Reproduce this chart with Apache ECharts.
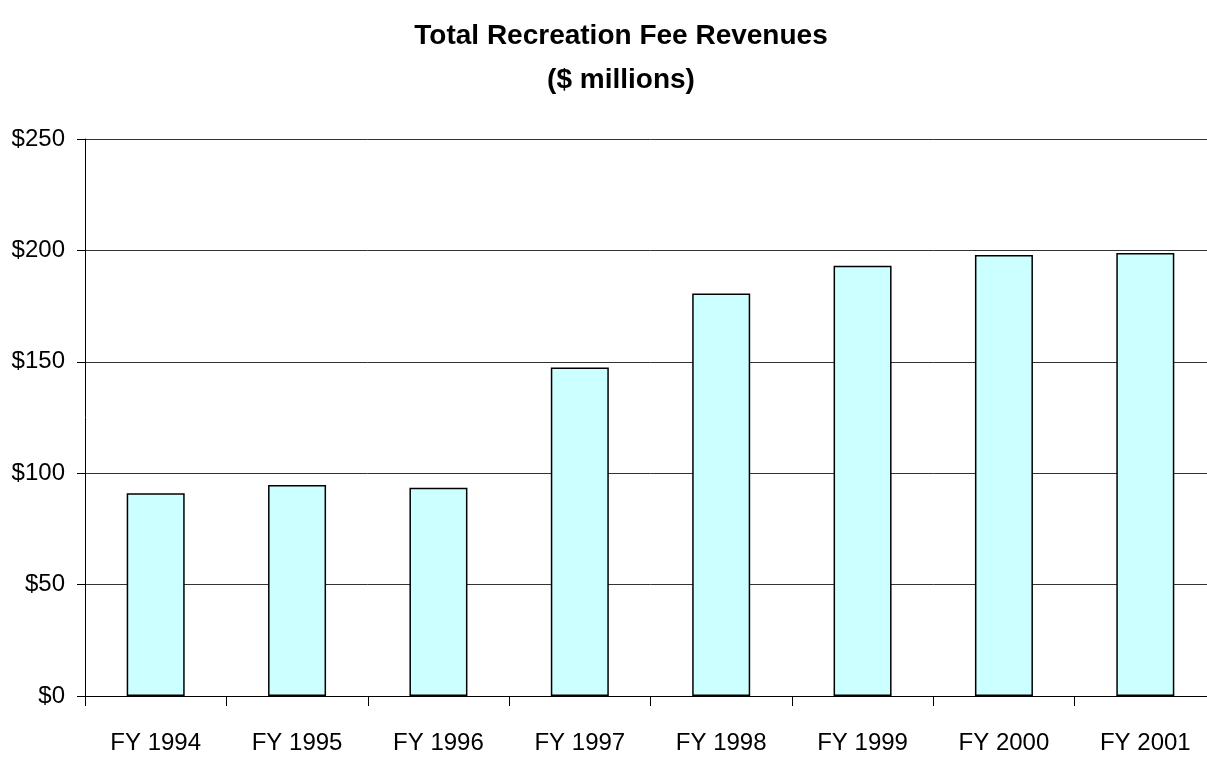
<!DOCTYPE html>
<html>
<head>
<meta charset="utf-8">
<script src="https://cdn.jsdelivr.net/npm/echarts@6/dist/echarts.min.js"></script>
<style>
  html, body { margin: 0; padding: 0; background: #fff; overflow: hidden; }
  #chart { width: 1220px; height: 762px; }
</style>
</head>
<body>
<div id="chart"></div>
<script>
// fiscal years and revenues ($ millions)
const categories = ['FY 1994', 'FY 1995', 'FY 1996', 'FY 1997', 'FY 1998', 'FY 1999', 'FY 2000', 'FY 2001']
const revenues = [91.0, 94.7, 93.5, 147.4, 180.7, 193.1, 197.9, 198.8]
const yTicks = [0, 50, 100, 150, 200, 250]

const font = '"Liberation Sans", Arial, sans-serif'
// the plot runs a little past the right edge of the window in the original,
// so the container is wider than the window and gets clipped
const chart = echarts.init(document.getElementById('chart'), null, { renderer: 'canvas' })

chart.setOption({
  animation: false,
  backgroundColor: '#fff',
  title: {
    text: 'Total Recreation Fee Revenues\n($ millions)',
    left: 616,
    textAlign: 'center',
    top: 9,
    textStyle: {
      fontFamily: font,
      fontSize: 28,
      fontWeight: 'bold',
      color: '#000',
      lineHeight: 44
    }
  },
  grid: { left: 85, right: 4, top: 139, bottom: 66, containLabel: false },
  xAxis: {
    type: 'category',
    data: categories,
    axisLine: { lineStyle: { color: '#000', width: 1 } },
    axisTick: { show: true, length: 10, lineStyle: { color: '#000' } },
    axisLabel: { color: '#000', fontFamily: font, fontSize: 24, margin: 35 },
    splitLine: { show: false }
  },
  yAxis: {
    type: 'value',
    min: yTicks[0],
    max: yTicks[yTicks.length - 1],
    interval: 50,
    axisLine: { show: true, lineStyle: { color: '#000', width: 1 } },
    axisTick: { show: true, length: 8, lineStyle: { color: '#000' } },
    axisLabel: {
      color: '#000',
      fontFamily: font,
      fontSize: 24,
      margin: 20,
      formatter: (v) => '$' + v
    },
    splitLine: { lineStyle: { color: '#333', width: 1 } }
  },
  series: [{
    type: 'bar',
    data: revenues,
    barWidth: 58,
    itemStyle: { color: '#CCFFFF', borderColor: '#000', borderWidth: 1.5 }
  }]
})
</script>
</body>
</html>
